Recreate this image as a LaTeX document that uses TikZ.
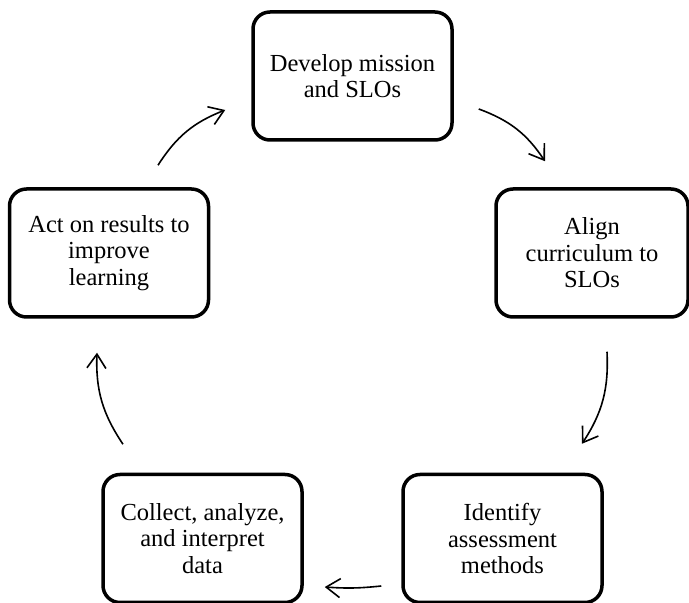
\documentclass[tikz,border=0pt]{standalone}
\usepackage{fontspec}
\setmainfont{Liberation Serif}
\usetikzlibrary{arrows.meta, calc}
\tikzset{>={Straight Barb[length=14pt,width=19pt]}}
\tikzset{stage/.style={draw, line width=3.5pt, rounded corners=17pt, minimum width=199pt, minimum height=128pt, align=center, inner sep=2pt, font=\fontsize{24.5}{26.5}\selectfont},
  flow/.style={->, line width=1.6pt, bend left=18}}

\begin{document}
\begin{tikzpicture}[x=1pt,y=1pt]
\useasboundingbox (0,0) rectangle (689,603);
\node[stage] (mission) at (352.5,527) {Develop mission\\and SLOs};
\node[stage, minimum width=192pt] (align) at (592,350) {Align\\curriculum to\\SLOs};
\node[stage] (methods) at (502.5,64.5) {Identify\\assessment\\methods};
\node[stage] (data) at (202.5,64.5) {Collect, analyze,\\and interpret\\data};
\node[stage] (act) at (109,350) {Act on results to\\improve\\learning};
\draw[flow] ($(mission.east)+(25,-33)$) to ($(align.north)+(-47,26)$);
\draw[flow] ($(align.south)+(15,-33)$) to ($(methods.north)+(79.5,29)$);
\draw[flow, bend left=5] ($(methods.west)+(-20,-47.5)$) to ($(data.east)+(21,-48.5)$);
\draw[flow] ($(data.north)+(-79.5,28.5)$) to ($(act.south)+(-12,-34)$);
\draw[flow] ($(act.north)+(49,22)$) to ($(mission.west)+(-26,-34)$);
\end{tikzpicture}
\end{document}
